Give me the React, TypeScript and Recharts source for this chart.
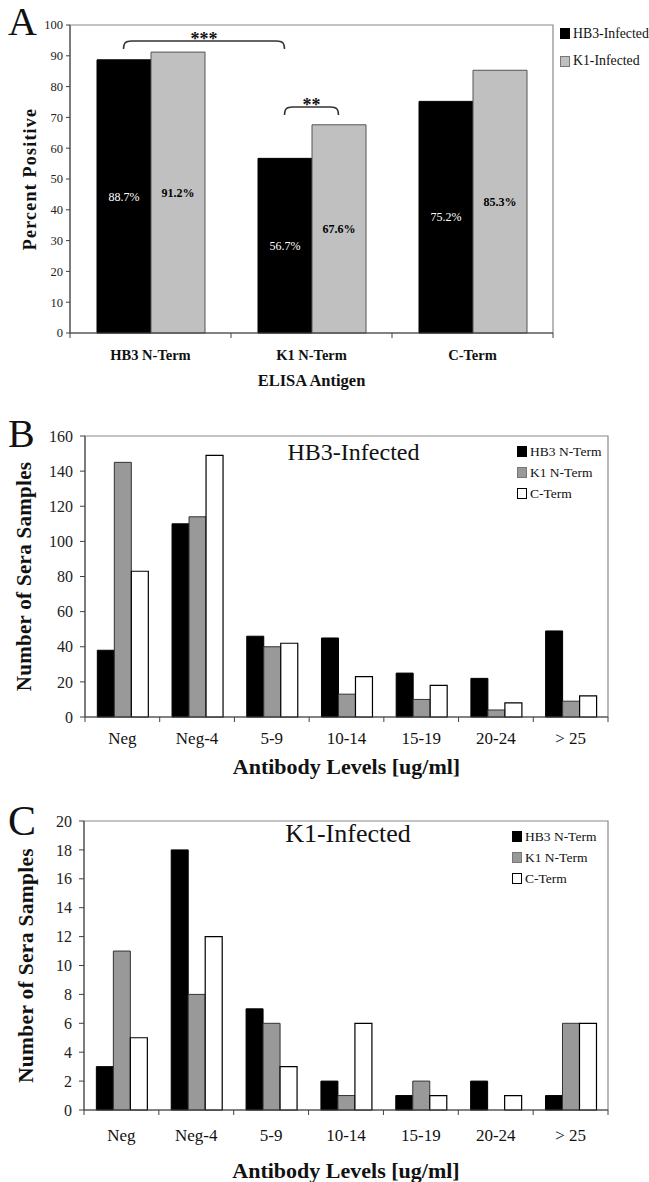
import React from 'react';
import { BarChart, Bar, XAxis, YAxis, ReferenceArea, ReferenceLine, LabelList, Legend, Label } from 'recharts';

const FONT = '"Liberation Serif", "Times New Roman", Times, serif';
const AXIS = '#404040';
const FRAME = '#8a8a8a';

// ---------- Panel A ----------
const antigenCategories = ['HB3 N-Term', 'K1 N-Term', 'C-Term'];
const hb3InfectedPercent = [88.7, 56.7, 75.2];
const k1InfectedPercent = [91.2, 67.6, 85.3];
const percentTicks = [0, 10, 20, 30, 40, 50, 60, 70, 80, 90, 100];
const panelASeries = ['HB3-Infected', 'K1-Infected'];
const significanceBrackets = [
  { from: 'HB3 N-Term', fromBar: 0, to: 'K1 N-Term', toBar: 0, level: 94.8, mark: '***' },
  { from: 'K1 N-Term', fromBar: 0, to: 'K1 N-Term', toBar: 1, level: 73.4, mark: '**' },
];

// ---------- Panels B and C ----------
const levelCategories = ['Neg', 'Neg-4', '5-9', '10-14', '15-19', '20-24', '> 25'];
const antigenSeries = ['HB3 N-Term', 'K1 N-Term', 'C-Term'];
const hb3InfectedHB3N = [38, 110, 46, 45, 25, 22, 49];
const hb3InfectedK1N = [145, 114, 40, 13, 10, 4, 9];
const hb3InfectedCTerm = [83, 149, 42, 23, 18, 8, 12];
const countTicksB = [0, 20, 40, 60, 80, 100, 120, 140, 160];
const k1InfectedHB3N = [3, 18, 7, 2, 1, 2, 1];
const k1InfectedK1N = [11, 8, 6, 1, 2, 0, 6];
const k1InfectedCTerm = [5, 12, 3, 6, 1, 1, 6];
const countTicksC = [0, 2, 4, 6, 8, 10, 12, 14, 16, 18, 20];

const dataA = antigenCategories.map((c, i) => ({ category: c, hb3: hb3InfectedPercent[i], k1: k1InfectedPercent[i] }));
const dataB = levelCategories.map((c, i) => ({ category: c, hb3n: hb3InfectedHB3N[i], k1n: hb3InfectedK1N[i], cterm: hb3InfectedCTerm[i] }));
const dataC = levelCategories.map((c, i) => ({ category: c, hb3n: k1InfectedHB3N[i], k1n: k1InfectedK1N[i], cterm: k1InfectedCTerm[i] }));

const SERIES_STYLE: Record<string, { fill: string; stroke: string }> = {
  'HB3-Infected': { fill: '#000000', stroke: '#000000' },
  'K1-Infected': { fill: '#c0c0c0', stroke: '#555555' },
  'HB3 N-Term': { fill: '#000000', stroke: '#000000' },
  'K1 N-Term': { fill: '#999999', stroke: '#333333' },
  'C-Term': { fill: '#ffffff', stroke: '#000000' },
};
const LEGEND_ORDER = [...panelASeries, ...antigenSeries];

const BAR_A = 54;

const makeCategoryTick = (fontSize: number, fontWeight: string, baseline: number) => (props: any) => {
  const { x, y, payload, index, visibleTicksCount } = props;
  const half = payload && typeof payload.offset === 'number' ? payload.offset : 0;
  const isLast = index === visibleTicksCount - 1;
  return (
    <g>
      {half > 0 && <line x1={x - half} x2={x - half} y1={y} y2={y + 5} stroke={AXIS} strokeWidth={1} />}
      {half > 0 && isLast && <line x1={x + half} x2={x + half} y1={y} y2={y + 5} stroke={AXIS} strokeWidth={1} />}
      <text x={x} y={y + baseline} textAnchor="middle" fontFamily={FONT} fontSize={fontSize} fontWeight={fontWeight} fill="#111">
        {payload.value}
      </text>
    </g>
  );
};

const makeYTitle = (text: string, cx: number, fontSize: number, letterSpacing: number) => (props: any) => {
  const vb = props.viewBox || { y: 0, height: 0 };
  const cy = vb.y + vb.height / 2;
  return (
    <text x={cx} y={cy} transform={`rotate(-90 ${cx} ${cy})`} textAnchor="middle" dominantBaseline="central"
      fontFamily={FONT} fontSize={fontSize} fontWeight="bold" letterSpacing={letterSpacing} fill="#111">
      {text}
    </text>
  );
};

const makeXTitle = (text: string, baseline: number, fontSize: number) => (props: any) => {
  const vb = props.viewBox || { x: 0, y: 0, width: 0 };
  return (
    <text x={vb.x + vb.width / 2} y={vb.y + baseline} textAnchor="middle" fontFamily={FONT} fontSize={fontSize} fontWeight="bold" fill="#111">
      {text}
    </text>
  );
};

const makePlotTitle = (text: string, dx: number, baseline: number, fontSize: number) => (props: any) => {
  const vb = props.viewBox || { x: 0, y: 0, width: 0 };
  return (
    <text x={vb.x + vb.width / 2 + dx} y={vb.y + baseline} textAnchor="middle" fontFamily={FONT} fontSize={fontSize} fill="#111">
      {text}
    </text>
  );
};

const makeBracketShape = (b: any) => (props: any) => {
  const { x1, x2, y1 } = props;
  if (typeof x1 !== 'number') return null;
  const ax = x1 + (b.fromBar - 0.5) * BAR_A;
  const bx = x2 + (b.toBar - 0.5) * BAR_A;
  const y = y1;
  const d = `M${ax},${y + 8} C${ax},${y + 2} ${ax + 2},${y} ${ax + 8},${y} L${bx - 8},${y} C${bx - 2},${y} ${bx},${y + 2} ${bx},${y + 8}`;
  return (
    <g>
      <path d={d} fill="none" stroke="#333" strokeWidth={1.5} />
      <text x={(ax + bx) / 2} y={y + 4} textAnchor="middle" fontFamily={FONT} fontSize={18} fontWeight="bold" fill="#111">
        {b.mark}
      </text>
    </g>
  );
};

const makeLegend = (fontSize: number, rowHeight: number, padTop: number, sq: number, padLeft: number) => (props: any) => {
  const payload = [...(props.payload || [])].sort(
    (a: any, b: any) => LEGEND_ORDER.indexOf(a.value) - LEGEND_ORDER.indexOf(b.value)
  );
  return (
    <div style={{ fontFamily: FONT, fontSize, color: '#111', paddingTop: padTop, paddingLeft: padLeft }}>
      {payload.map((e: any, i: number) => {
        const st = SERIES_STYLE[e.value] || { fill: e.color, stroke: '#000' };
        return (
          <div key={i} style={{ display: 'flex', alignItems: 'center', height: rowHeight, whiteSpace: 'nowrap' }}>
            <span style={{ display: 'inline-block', flexShrink: 0, width: sq, height: sq + 1, background: st.fill, border: `1px solid ${st.stroke === '#000000' ? '#000' : '#777'}`, boxSizing: 'border-box', marginRight: 3 }} />
            <span>{e.value}</span>
          </div>
        );
      })}
    </div>
  );
};

function PanelA() {
  return (
    <BarChart width={649} height={395} data={dataA} margin={{ top: 25, right: 96, bottom: 0, left: 0 }} barGap={0}>
      <ReferenceArea y1={0} y2={100} fill="none" stroke={FRAME} strokeWidth={1.2} ifOverflow="visible" />
      <XAxis dataKey="category" height={62} tickLine={false} tickSize={0} tickMargin={0} interval={0}
        axisLine={{ stroke: AXIS }} tick={makeCategoryTick(14.5, 'bold', 27)}
        label={<Label content={makeXTitle('ELISA Antigen', 53, 16.5)} />} />
      <YAxis domain={[0, 100]} ticks={percentTicks} interval={0} width={70} tickSize={4} tickMargin={3}
        axisLine={{ stroke: AXIS }} tickLine={{ stroke: AXIS }}
        tick={{ fontSize: 12.5, fontFamily: FONT, fill: '#222' }}
        label={<Label content={makeYTitle('Percent Positive', 30, 18, 1.2)} />} />
      <Bar dataKey="hb3" name={panelASeries[0]} fill={SERIES_STYLE['HB3-Infected'].fill} stroke={SERIES_STYLE['HB3-Infected'].stroke} barSize={BAR_A} isAnimationActive={false}>
        <LabelList dataKey="hb3" position="center" formatter={(v: any) => `${Number(v).toFixed(1)}%`} fill="#ffffff" fontSize={12} fontFamily={FONT} />
      </Bar>
      <Bar dataKey="k1" name={panelASeries[1]} fill={SERIES_STYLE['K1-Infected'].fill} stroke={SERIES_STYLE['K1-Infected'].stroke} barSize={BAR_A} isAnimationActive={false}>
        <LabelList dataKey="k1" position="center" formatter={(v: any) => `${Number(v).toFixed(1)}%`} fill="#000000" fontSize={12} fontFamily={FONT} fontWeight="bold" />
      </Bar>
      {significanceBrackets.map((b, i) => (
        <ReferenceLine key={i} segment={[{ x: b.from, y: b.level }, { x: b.to, y: b.level }]} ifOverflow="visible" shape={makeBracketShape(b)} />
      ))}
      <Legend layout="vertical" align="center" verticalAlign="middle"
        wrapperStyle={{ left: 558, top: 20, width: 91, height: 58 }}
        content={makeLegend(13.8, 27.5, 0, 10, 2)} />
    </BarChart>
  );
}

function CountPanel(props: any) {
  const { data, ticks, max, title, titleDx, titleBaseline, titleSize, height, top, plotLeft, xTickBaseline, xTitleBaseline, yTitleX, yTitleSize, legendStyle, legendRow, legendPad } = props;
  return (
    <BarChart width={649} height={height} data={data} margin={{ top, right: 41, bottom: 0, left: 0 }} barGap={0} barCategoryGap="16.5%">
      <ReferenceArea y1={0} y2={max} fill="none" stroke={FRAME} strokeWidth={1.2} ifOverflow="visible"
        label={<Label content={makePlotTitle(title, titleDx, titleBaseline, titleSize)} />} />
      <XAxis dataKey="category" height={height - top - props.plotHeight} tickLine={false} tickSize={0} tickMargin={0} interval={0}
        axisLine={{ stroke: AXIS }} tick={makeCategoryTick(17, 'normal', xTickBaseline)}
        label={<Label content={makeXTitle('Antibody Levels [ug/ml]', xTitleBaseline, 22)} />} />
      <YAxis domain={[0, max]} ticks={ticks} interval={0} width={plotLeft} tickSize={5} tickMargin={7}
        axisLine={{ stroke: AXIS }} tickLine={{ stroke: AXIS }}
        tick={{ fontSize: 16, fontFamily: FONT, fill: '#222' }}
        label={<Label content={makeYTitle('Number of Sera Samples', yTitleX, yTitleSize, 0.3)} />} />
      <Bar dataKey="hb3n" name={antigenSeries[0]} fill={SERIES_STYLE['HB3 N-Term'].fill} stroke={SERIES_STYLE['HB3 N-Term'].stroke} isAnimationActive={false} />
      <Bar dataKey="k1n" name={antigenSeries[1]} fill={SERIES_STYLE['K1 N-Term'].fill} stroke={SERIES_STYLE['K1 N-Term'].stroke} isAnimationActive={false} />
      <Bar dataKey="cterm" name={antigenSeries[2]} fill={SERIES_STYLE['C-Term'].fill} stroke={SERIES_STYLE['C-Term'].stroke} strokeWidth={1.2} isAnimationActive={false} />
      <Legend layout="vertical" align="center" verticalAlign="middle" wrapperStyle={legendStyle}
        content={makeLegend(13.5, legendRow, legendPad, 10, 4)} />
    </BarChart>
  );
}

export default function App() {
  return (
    <div style={{ position: 'absolute', left: 0, top: 0, width: 649, height: 1182, background: '#fff', overflow: 'hidden' }}>
      <div style={{ position: 'absolute', left: 0, top: 0 }}>
        <PanelA />
      </div>
      <div style={{ position: 'absolute', left: 0, top: 390 }}>
        <CountPanel data={dataB} ticks={countTicksB} max={160} title="HB3-Infected" titleDx={7} titleBaseline={24} titleSize={24}
          height={390} top={46} plotHeight={281} plotLeft={85} xTickBaseline={27} xTitleBaseline={57} yTitleX={24} yTitleSize={21}
          legendStyle={{ left: 513, top: 47, width: 94, height: 69, background: '#ffffff' }} legendRow={21} legendPad={4} />
      </div>
      <div style={{ position: 'absolute', left: 0, top: 780 }}>
        <CountPanel data={dataC} ticks={countTicksC} max={20} title="K1-Infected" titleDx={2} titleBaseline={21} titleSize={26}
          height={402} top={41} plotHeight={289} plotLeft={84} xTickBaseline={31} xTitleBaseline={68} yTitleX={26} yTitleSize={21.5}
          legendStyle={{ left: 508, top: 45, width: 95, height: 66 }} legendRow={21} legendPad={1} />
      </div>
      <svg width={649} height={1182} style={{ position: 'absolute', left: 0, top: 0, pointerEvents: 'none' }}>
        <text x={8} y={35} fontFamily={FONT} fontSize={40} fill="#111">A</text>
        <text x={8} y={447} fontFamily={FONT} fontSize={40} fill="#111">B</text>
        <text x={8} y={835} fontFamily={FONT} fontSize={42} fill="#111">C</text>
      </svg>
    </div>
  );
}
